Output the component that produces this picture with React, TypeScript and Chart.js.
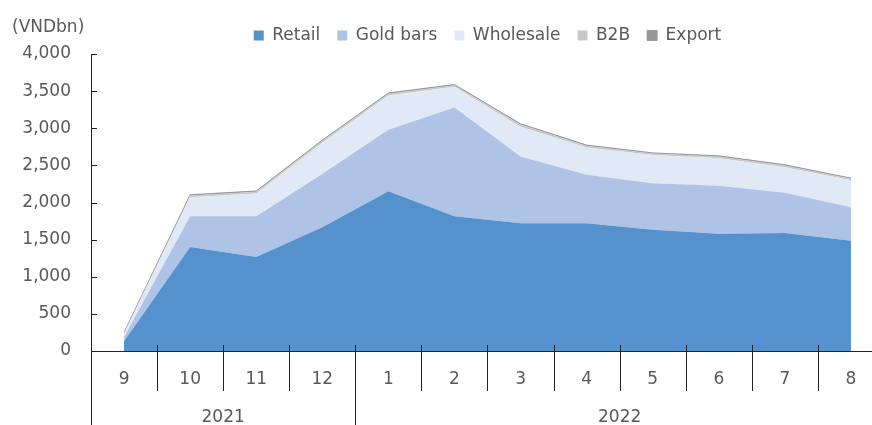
import { useEffect, useRef } from 'react';
import { Chart, registerables } from 'chart.js';

Chart.register(...registerables);

const months = ['9', '10', '11', '12', '1', '2', '3', '4', '5', '6', '7', '8'];
const years = ['2021', '2021', '2021', '2021', '2022', '2022', '2022', '2022', '2022', '2022', '2022', '2022'];
const retail = [130, 1400, 1265, 1668, 2150, 1815, 1722, 1722, 1633, 1580, 1588, 1485];
const goldBars = [60, 415, 551, 717, 829, 1465, 899, 653, 626, 644, 542, 452];
const wholesale = [45, 255, 304, 420, 461, 280, 399, 365, 381, 371, 345, 363];
const b2b = [10, 25, 25, 25, 25, 20, 30, 25, 20, 25, 25, 20];
const exportVals = [5, 10, 10, 10, 10, 8, 10, 8, 8, 8, 8, 8];
const seriesNames = ['Retail', 'Gold bars', 'Wholesale', 'B2B', 'Export'];
const yMin = 0;
const yMax = 4000;
const yStep = 500;
const unitLabel = '(VNDbn)';

const FONT = 'DejaVu Sans';
const TEXT = '#595959';
const AXIS = '#222222';

export default function App() {
  const ref = useRef<HTMLCanvasElement | null>(null);

  useEffect(() => {
    if (!ref.current) return;
    const colors = ['#5592cd', '#aec3e5', '#e1e8f6', '#c8c8c8', '#969696'];
    const values = [retail, goldBars, wholesale, b2b, exportVals];

    const extras = {
      id: 'extras',
      afterDraw(chart: any) {
        const ctx = chart.ctx;
        const xs = chart.scales.x;
        const ys = chart.scales.y;
        const bottom = chart.chartArea.bottom;
        const canvasH = chart.height;
        ctx.save();
        ctx.strokeStyle = AXIS;
        ctx.lineWidth = 1;
        // inward y ticks
        ys.ticks.forEach((_t: any, i: number) => {
          const py = Math.round(ys.getPixelForTick(i)) + 0.5;
          ctx.beginPath();
          ctx.moveTo(xs.left, py);
          ctx.lineTo(xs.left + 6, py);
          ctx.stroke();
        });
        // category dividers
        const n = months.length;
        const half = (xs.getPixelForValue(1) - xs.getPixelForValue(0)) / 2;
        for (let i = 0; i <= n; i++) {
          const bx = Math.round(i < n ? xs.getPixelForValue(i) - half : xs.getPixelForValue(n - 1) + half) + 0.5;
          ctx.beginPath();
          if (i === 0) {
            ctx.moveTo(bx, bottom);
            ctx.lineTo(bx, canvasH);
          } else if (i === n || years[i] !== years[i - 1]) {
            ctx.moveTo(bx, bottom - 6);
            ctx.lineTo(bx, canvasH);
          } else {
            ctx.moveTo(bx, bottom - 6);
            ctx.lineTo(bx, bottom + 40);
          }
          ctx.stroke();
        }
        // year labels
        ctx.fillStyle = TEXT;
        ctx.font = `17px "${FONT}"`;
        ctx.textAlign = 'center';
        ctx.textBaseline = 'middle';
        let start = 0;
        for (let i = 1; i <= n; i++) {
          if (i === n || years[i] !== years[start]) {
            const l = xs.getPixelForValue(start) - half;
            const r = xs.getPixelForValue(i - 1) + half;
            ctx.fillText(years[start], (l + r) / 2, 418);
            start = i;
          }
        }
        // unit label
        ctx.textAlign = 'left';
        ctx.fillText(unitLabel, 12, 28);
        ctx.restore();
      },
    };

    const chart = new Chart(ref.current, {
      type: 'line',
      data: {
        labels: months,
        datasets: values.map((v, i) => ({
          label: seriesNames[i],
          data: v,
          backgroundColor: colors[i],
          borderColor: colors[i],
          borderWidth: i === 4 ? 1 : 0,
          pointRadius: 0,
          tension: 0,
          fill: i === 0 ? 'origin' : '-1',
        })),
      },
      options: {
        responsive: false,
        animation: false,
        devicePixelRatio: 1,
        layout: { padding: { top: 10, right: 16, left: 0, bottom: 0 } },
        plugins: {
          legend: {
            position: 'top',
            fullSize: false,
            labels: {
              boxWidth: 10,
              boxHeight: 10,
              padding: 17,
              color: TEXT,
              font: { family: FONT, size: 17 },
            },
          },
          tooltip: { enabled: false },
        },
        scales: {
          x: {
            type: 'category',
            offset: true,
            grid: { display: false, drawTicks: false },
            border: { display: true, color: AXIS, width: 1 },
            ticks: {
              color: TEXT,
              font: { family: FONT, size: 17 },
              padding: 18,
              maxRotation: 0,
              autoSkip: false,
            },
            afterFit(scale: any) {
              scale.height = 74;
            },
          },
          y: {
            stacked: true,
            min: yMin,
            max: yMax,
            grid: { display: false, drawTicks: false },
            border: { display: true, color: AXIS, width: 1 },
            ticks: {
              stepSize: yStep,
              color: TEXT,
              font: { family: FONT, size: 17 },
              padding: 20,
              callback: (v: any) => Number(v).toLocaleString('en-US'),
            },
            afterFit(scale: any) {
              scale.width = 91;
            },
          },
        },
      },
      plugins: [extras],
    });
    return () => chart.destroy();
  }, []);

  return (
    <div style={{ position: 'absolute', left: 0, top: 0, width: 872, height: 425, overflow: 'hidden' }}>
      <canvas ref={ref} width={900} height={425} style={{ width: 900, height: 425, display: 'block' }} />
    </div>
  );
}
